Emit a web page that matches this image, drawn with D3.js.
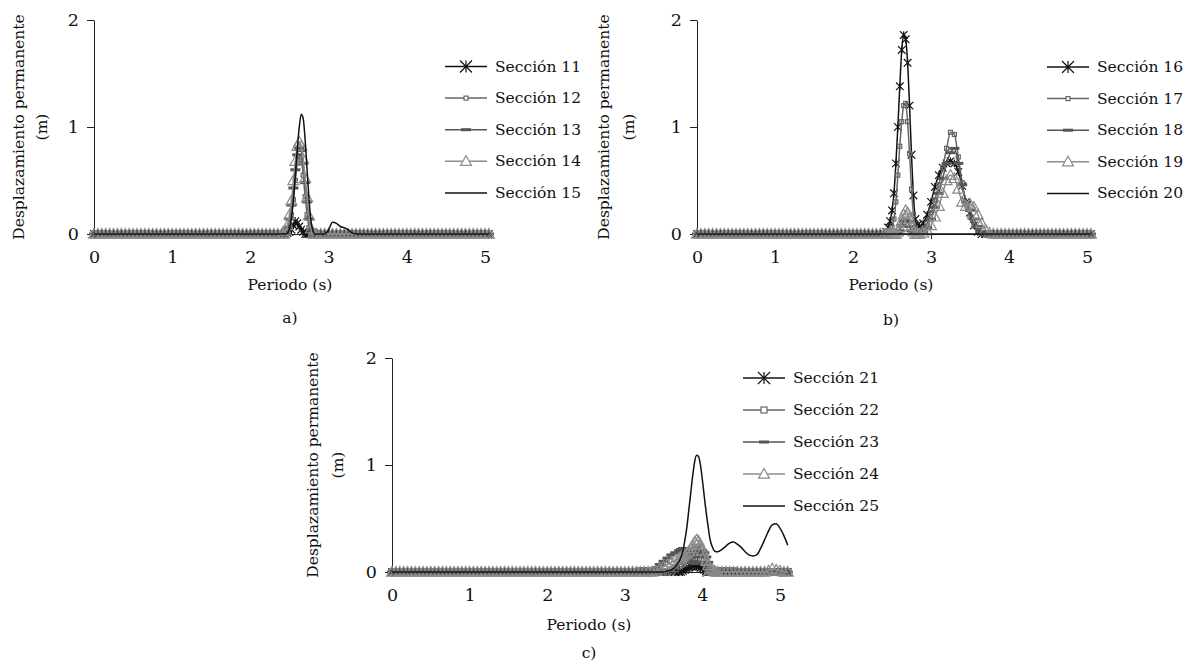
<!DOCTYPE html>
<html>
<head>
<meta charset="utf-8">
<script src="https://cdn.jsdelivr.net/npm/d3@7"></script>
<style>
  body { margin: 0; background: #fff; }
  svg text { font-family: "DejaVu Serif", serif; fill: #111; }
</style>
</head>
<body>
<div class="canvas"></div>
<script>
// ---- data ----
// tick labels
const xTicks = [0, 1, 2, 3, 4, 5];
const yTicks = [0, 1, 2];

// periods (s), panels a and b: 0-2.4 every 0.05, 2.425-2.85 every 0.025, 2.9-5.05 every 0.05
const periodsAB = [
  0,0.05,0.1,0.15,0.2,0.25,0.3,0.35,0.4,0.45, 0.5,0.55,0.6,0.65,0.7,0.75,0.8,0.85,0.9,0.95,
  1,1.05,1.1,1.15,1.2,1.25,1.3,1.35,1.4,1.45, 1.5,1.55,1.6,1.65,1.7,1.75,1.8,1.85,1.9,1.95,
  2,2.05,2.1,2.15,2.2,2.25,2.3,2.35,2.4,
  2.425,2.45,2.475,2.5,2.525,2.55,2.575,2.6,2.625,2.65,2.675,2.7,2.725,2.75,2.775,2.8,2.825,2.85,
  2.9,2.95,3,3.05,3.1,3.15,3.2,3.25,3.3,3.35, 3.4,3.45,3.5,3.55,3.6,3.65,3.7,3.75,3.8,3.85,
  3.9,3.95,4,4.05,4.1,4.15,4.2,4.25,4.3,4.35, 4.4,4.45,4.5,4.55,4.6,4.65,4.7,4.75,4.8,4.85,
  4.9,4.95,5,5.05
];

// periods (s), panel c: 0-3.7 every 0.05, 3.725-4.2 every 0.025, 4.25-5.1 every 0.05
const periodsC = [
  0,0.05,0.1,0.15,0.2,0.25,0.3,0.35,0.4,0.45, 0.5,0.55,0.6,0.65,0.7,0.75,0.8,0.85,0.9,0.95,
  1,1.05,1.1,1.15,1.2,1.25,1.3,1.35,1.4,1.45, 1.5,1.55,1.6,1.65,1.7,1.75,1.8,1.85,1.9,1.95,
  2,2.05,2.1,2.15,2.2,2.25,2.3,2.35,2.4,2.45, 2.5,2.55,2.6,2.65,2.7,2.75,2.8,2.85,2.9,2.95,
  3,3.05,3.1,3.15,
  3.2,3.25,3.3,3.35,3.4,3.45,3.5,3.55,3.6,3.65,3.7,
  3.725,3.75,3.775,3.8,3.825,3.85,3.875,3.9,3.925,3.95,3.975,4,4.025,4.05,4.075,4.1,4.125,4.15,4.175,4.2,
  4.25,4.3,4.35,4.4,4.45,4.5,4.55,4.6,4.65,4.7,4.75,4.8,4.85,4.9,4.95,5,5.05,5.1
];

// permanent displacement (m), panel a
const namesA = ['Sección 11', 'Sección 12', 'Sección 13', 'Sección 14', 'Sección 15'];
const sec11 = [
  0,0,0,0,0,0,0,0,0,0, 0,0,0,0,0,0,0,0,0,0, 0,0,0,0,0,0,0,0,0,0, 0,0,0,0,0,0,0,0,0,0, 0,0,0,0,0,0,0,0,0,
  0,0,0.01,0.02,0.04,0.08,0.12,0.1,0.07,0.04,0.02,0,0,0,0,0,0,0,
  0,0,0,0,0,0,0,0,0,0, 0,0,0,0,0,0,0,0,0,0, 0,0,0,0,0,0,0,0,0,0, 0,0,0,0,0,0,0,0,0,0, 0,0,0,0
];
const sec12 = [
  0,0,0,0,0,0,0,0,0,0, 0,0,0,0,0,0,0,0,0,0, 0,0,0,0,0,0,0,0,0,0, 0,0,0,0,0,0,0,0,0,0, 0,0,0,0,0,0,0,0,0,
  0,0.01,0.03,0.08,0.18,0.32,0.5,0.66,0.72,0.7,0.55,0.35,0.18,0.06,0.01,0,0,0,
  0,0,0,0,0,0,0,0,0,0, 0,0,0,0,0,0,0,0,0,0, 0,0,0,0,0,0,0,0,0,0, 0,0,0,0,0,0,0,0,0,0, 0,0,0,0
];
const sec13 = [
  0,0,0,0,0,0,0,0,0,0, 0,0,0,0,0,0,0,0,0,0, 0,0,0,0,0,0,0,0,0,0, 0,0,0,0,0,0,0,0,0,0, 0,0,0,0,0,0,0,0,0,
  0,0.02,0.06,0.14,0.27,0.43,0.6,0.74,0.8,0.78,0.66,0.48,0.3,0.14,0.04,0,0,0,
  0,0,0,0,0,0,0,0,0,0, 0,0,0,0,0,0,0,0,0,0, 0,0,0,0,0,0,0,0,0,0, 0,0,0,0,0,0,0,0,0,0, 0,0,0,0
];
const sec14 = [
  0,0,0,0,0,0,0,0,0,0, 0,0,0,0,0,0,0,0,0,0, 0,0,0,0,0,0,0,0,0,0, 0,0,0,0,0,0,0,0,0,0, 0,0,0,0,0,0,0,0,0,
  0,0.03,0.08,0.18,0.31,0.5,0.68,0.82,0.86,0.82,0.7,0.52,0.34,0.17,0.05,0,0,0,
  0,0,0,0,0,0,0,0,0,0, 0,0,0,0,0,0,0,0,0,0, 0,0,0,0,0,0,0,0,0,0, 0,0,0,0,0,0,0,0,0,0, 0,0,0,0
];
const sec15 = [
  0,0,0,0,0,0,0,0,0,0, 0,0,0,0,0,0,0,0,0,0, 0,0,0,0,0,0,0,0,0,0, 0,0,0,0,0,0,0,0,0,0, 0,0,0,0,0,0,0,0,0,
  0,0,0.01,0.05,0.15,0.32,0.55,0.8,1,1.12,1.08,0.88,0.6,0.32,0.12,0.03,0,0,
  0,0,0.04,0.11,0.1,0.07,0.06,0.04,0.01,0, 0,0,0,0,0,0,0,0,0,0, 0,0,0,0,0,0,0,0,0,0, 0,0,0,0,0,0,0,0,0,0, 0,0,0,0
];

// permanent displacement (m), panel b
const namesB = ['Sección 16', 'Sección 17', 'Sección 18', 'Sección 19', 'Sección 20'];
const sec16 = [
  0,0,0,0,0,0,0,0,0,0, 0,0,0,0,0,0,0,0,0,0, 0,0,0,0,0,0,0,0,0,0, 0,0,0,0,0,0,0,0,0,0, 0,0,0,0,0,0,0,0,0,
  0.02,0.06,0.12,0.22,0.38,0.66,1,1.38,1.72,1.86,1.82,1.6,1.2,0.74,0.36,0.14,0.08,0.07,
  0.1,0.18,0.3,0.44,0.55,0.62,0.66,0.68,0.66,0.58, 0.45,0.3,0.2,0.08,0.02,0,0,0,0,0, 0,0,0,0,0,0,0,0,0,0, 0,0,0,0,0,0,0,0,0,0, 0,0,0,0
];
const sec17 = [
  0,0,0,0,0,0,0,0,0,0, 0,0,0,0,0,0,0,0,0,0, 0,0,0,0,0,0,0,0,0,0, 0,0,0,0,0,0,0,0,0,0, 0,0,0,0,0,0,0,0,0,
  0,0.01,0.03,0.06,0.14,0.3,0.55,0.82,1.05,1.2,1.22,1.05,0.75,0.42,0.18,0.06,0.03,0.03,
  0.05,0.1,0.2,0.32,0.46,0.62,0.8,0.95,0.93,0.72, 0.48,0.28,0.16,0.08,0.03,0.01,0,0,0,0, 0,0,0,0,0,0,0,0,0,0, 0,0,0,0,0,0,0,0,0,0, 0,0,0,0
];
const sec18 = [
  0,0,0,0,0,0,0,0,0,0, 0,0,0,0,0,0,0,0,0,0, 0,0,0,0,0,0,0,0,0,0, 0,0,0,0,0,0,0,0,0,0, 0,0,0,0,0,0,0,0,0,
  0,0,0,0,0,0,0.01,0.03,0.08,0.12,0.14,0.12,0.07,0.03,0.01,0,0,0,
  0.02,0.06,0.14,0.25,0.38,0.52,0.66,0.76,0.8,0.66, 0.46,0.3,0.22,0.14,0.07,0.02,0,0,0,0, 0,0,0,0,0,0,0,0,0,0, 0,0,0,0,0,0,0,0,0,0, 0,0,0,0
];
const sec19 = [
  0,0,0,0,0,0,0,0,0,0, 0,0,0,0,0,0,0,0,0,0, 0,0,0,0,0,0,0,0,0,0, 0,0,0,0,0,0,0,0,0,0, 0,0,0,0,0,0,0,0,0,
  0,0,0,0,0,0,0.02,0.06,0.12,0.18,0.22,0.2,0.14,0.07,0.02,0,0,0,
  0.01,0.03,0.08,0.16,0.26,0.38,0.5,0.55,0.52,0.42, 0.3,0.26,0.28,0.25,0.18,0.1,0.04,0.01,0,0, 0,0,0,0,0,0,0,0,0,0, 0,0,0,0,0,0,0,0,0,0, 0,0,0,0
];
const sec20 = [
  0,0,0,0,0,0,0,0,0,0, 0,0,0,0,0,0,0,0,0,0, 0,0,0,0,0,0,0,0,0,0, 0,0,0,0,0,0,0,0,0,0, 0,0,0,0,0,0,0,0,0,
  0,0,0,0,0,0,0,0,0,0,0,0,0,0,0,0,0,0,
  0,0,0,0,0,0,0,0,0,0, 0,0,0,0,0,0,0,0,0,0, 0,0,0,0,0,0,0,0,0,0, 0,0,0,0,0,0,0,0,0,0, 0,0,0,0
];

// permanent displacement (m), panel c
const namesC = ['Sección 21', 'Sección 22', 'Sección 23', 'Sección 24', 'Sección 25'];
const sec21 = [
  0,0,0,0,0,0,0,0,0,0, 0,0,0,0,0,0,0,0,0,0, 0,0,0,0,0,0,0,0,0,0, 0,0,0,0,0,0,0,0,0,0, 0,0,0,0,0,0,0,0,0,0, 0,0,0,0,0,0,0,0,0,0, 0,0,0,0,
  0,0,0,0,0,0,0,0,0,0,0,
  0,0.01,0.02,0.03,0.04,0.05,0.05,0.06,0.05,0.05,0.04,0.03,0.02,0.01,0,0,0,0,0,0,
  0,0,0,0,0,0,0,0,0,0,0,0,0,0,0,0,0,0
];
const sec22 = [
  0,0,0,0,0,0,0,0,0,0, 0,0,0,0,0,0,0,0,0,0, 0,0,0,0,0,0,0,0,0,0, 0,0,0,0,0,0,0,0,0,0, 0,0,0,0,0,0,0,0,0,0, 0,0,0,0,0,0,0,0,0,0, 0,0,0,0,
  0,0,0,0,0,0,0,0,0.01,0.03,0.06,
  0.08,0.1,0.12,0.14,0.15,0.16,0.18,0.2,0.22,0.23,0.21,0.17,0.12,0.07,0.03,0.01,0,0,0,0,
  0,0,0,0,0,0,0,0,0,0,0,0,0,0,0,0,0,0
];
const sec23 = [
  0,0,0,0,0,0,0,0,0,0, 0,0,0,0,0,0,0,0,0,0, 0,0,0,0,0,0,0,0,0,0, 0,0,0,0,0,0,0,0,0,0, 0,0,0,0,0,0,0,0,0,0, 0,0,0,0,0,0,0,0,0,0, 0,0,0,0,
  0.03,0.03,0.03,0.02,0.04,0.07,0.1,0.13,0.16,0.18,0.2,
  0.21,0.22,0.22,0.2,0.17,0.13,0.1,0.08,0.1,0.14,0.18,0.2,0.18,0.14,0.09,0.05,0.03,0.03,0.03,0.03,
  0.03,0.03,0.03,0.03,0.02,0,0,0,0,0,0,0,0,0,0,0,0,0
];
const sec24 = [
  0,0,0,0,0,0,0,0,0,0, 0,0,0,0,0,0,0,0,0,0, 0,0,0,0,0,0,0,0,0,0, 0,0,0,0,0,0,0,0,0,0, 0,0,0,0,0,0,0,0,0,0, 0,0,0,0,0,0,0,0,0,0, 0,0,0,0,
  0,0,0,0,0.01,0.03,0.05,0.07,0.09,0.11,0.13,
  0.14,0.15,0.16,0.17,0.19,0.22,0.25,0.28,0.3,0.29,0.25,0.2,0.15,0.1,0.06,0.03,0.02,0.01,0,0,
  0,0,0,0,0,0,0,0,0,0,0,0,0.01,0.03,0.02,0.01,0,0
];
const sec25 = [
  0,0,0,0,0,0,0,0,0,0, 0,0,0,0,0,0,0,0,0,0, 0,0,0,0,0,0,0,0,0,0, 0,0,0,0,0,0,0,0,0,0, 0,0,0,0,0,0,0,0,0,0, 0,0,0,0,0,0,0,0,0,0, 0,0,0,0,
  0,0,0,0,0,0,0,0.01,0.02,0.05,0.1,
  0.14,0.2,0.3,0.42,0.58,0.74,0.9,1.03,1.09,1.08,1,0.86,0.7,0.55,0.42,0.3,0.24,0.2,0.19,0.19,
  0.21,0.24,0.27,0.28,0.26,0.23,0.19,0.16,0.15,0.16,0.22,0.3,0.38,0.44,0.45,0.41,0.34,0.25
];

// ---- styles (same order in every panel) ----
const styles = [
  { marker: 'star',     color: '#111' },
  { marker: 'square',   color: '#666' },
  { marker: 'dash',     color: '#555' },
  { marker: 'triangle', color: '#8c8c8c' },
  { marker: 'none',     color: '#111' }
];

// panel layout
const panels = [
  { tag: 'a)', periods: periodsAB, names: namesA, values: [sec11, sec12, sec13, sec14, sec15],
    x0: 94, unit: 78.2, xMax: 5.06, y0: 234, yTop: 20, labX: 18.5, mX: 42,
    titleX: 290, titleY: 285, tagY: 318, legX: 445, legY: 66.5, legStep: 31.6, sq: 4 },
  { tag: 'b)', periods: periodsAB, names: namesB, values: [sec16, sec17, sec18, sec19, sec20],
    x0: 697, unit: 78, xMax: 5.06, y0: 234, yTop: 20, labX: 604, mX: 629,
    titleX: 891, titleY: 285, tagY: 320, legX: 1047, legY: 67, legStep: 31.6, sq: 4 },
  { tag: 'c)', periods: periodsC, names: namesC, values: [sec21, sec22, sec23, sec24, sec25],
    x0: 392, unit: 77.6, xMax: 5.1, y0: 572, yTop: 358, labX: 313, mX: 338,
    titleX: 589, titleY: 625, tagY: 653, legX: 743, legY: 378, legStep: 32, sq: 6 }
];

// create SVG
const svg = d3.select('.canvas')
  .append('svg')
  .attr('width', 1187)
  .attr('height', 662);

// marker drawing
const drawMarker = function(sel, style, sq, big) {
  const c = style.color;
  if (style.marker === 'star') {
    const r = big ? 6 : 3.8;
    sel.append('path')
      .attr('d', `M${-r},${-r}L${r},${r}M${-r},${r}L${r},${-r}M0,${-r}L0,${r}`)
      .attr('stroke', c).attr('stroke-width', 1.2).attr('fill', 'none');
  } else if (style.marker === 'square') {
    sel.append('rect')
      .attr('x', -sq / 2).attr('y', -sq / 2).attr('width', sq).attr('height', sq)
      .attr('stroke', c).attr('stroke-width', 1.2).attr('fill', big ? '#fff' : 'none');
  } else if (style.marker === 'dash') {
    sel.append('rect')
      .attr('x', -5).attr('y', -1.5).attr('width', 10).attr('height', 3)
      .attr('fill', c);
  } else if (style.marker === 'triangle') {
    const r = 5.5;
    sel.append('path')
      .attr('d', `M0,${-r}L${r},${r * 0.75}L${-r},${r * 0.75}Z`)
      .attr('stroke', c).attr('stroke-width', 1.2).attr('fill', big ? '#fff' : 'none');
  }
};

panels.forEach(p => {
  const x = d3.scaleLinear()
    .domain([0, p.xMax])
    .range([p.x0, p.x0 + p.unit * p.xMax]);
  const y = d3.scaleLinear()
    .domain([0, 2])
    .range([p.y0, p.yTop]);

  const g = svg.append('g');

  // y axis
  const yAxis = g.append('g')
    .attr('transform', `translate(${p.x0},0)`)
    .call(d3.axisLeft(y).tickValues(yTicks).tickSize(7).tickSizeOuter(0).tickPadding(8)
      .tickFormat(d3.format('d')));

  // x axis
  const xAxis = g.append('g')
    .attr('transform', `translate(0,${p.y0})`)
    .call(d3.axisBottom(x).tickValues(xTicks).tickSize(5).tickSizeOuter(0).tickPadding(12)
      .tickFormat(d3.format('d')));

  [yAxis, xAxis].forEach(a => {
    a.attr('font-family', '"DejaVu Serif", serif').attr('font-size', 17.5);
    a.select('.domain').attr('stroke', '#222');
    a.selectAll('.tick line').attr('stroke', '#222');
    a.selectAll('.tick text').attr('fill', '#111');
  });

  // axis titles
  g.append('text')
    .attr('transform', `translate(${p.labX},${(p.y0 + p.yTop) / 2}) rotate(-90)`)
    .attr('text-anchor', 'middle')
    .attr('dominant-baseline', 'central')
    .attr('font-size', 15.5)
    .text('Desplazamiento permanente');
  g.append('text')
    .attr('transform', `translate(${p.mX},${(p.y0 + p.yTop) / 2}) rotate(-90)`)
    .attr('text-anchor', 'middle')
    .attr('dominant-baseline', 'central')
    .attr('font-size', 15.5)
    .text('(m)');
  g.append('text')
    .attr('x', p.titleX).attr('y', p.titleY)
    .attr('text-anchor', 'middle')
    .attr('dominant-baseline', 'central')
    .attr('font-size', 15.5)
    .text('Periodo (s)');
  g.append('text')
    .attr('x', p.titleX).attr('y', p.tagY)
    .attr('text-anchor', 'middle')
    .attr('dominant-baseline', 'central')
    .attr('font-size', 15.5)
    .text(p.tag);

  // series
  const line = d3.line()
    .x(d => x(d[0]))
    .y(d => y(d[1]))
    .curve(d3.curveMonotoneX);

  p.values.forEach((vals, i) => {
    const st = styles[i];
    const pts = p.periods.map((t, j) => [t, vals[j]]);
    g.append('path')
      .datum(pts)
      .attr('fill', 'none')
      .attr('stroke', st.color)
      .attr('stroke-width', 1.5)
      .attr('d', line);
    if (st.marker !== 'none') {
      g.append('g').selectAll('g')
        .data(pts)
        .enter()
        .append('g')
          .attr('transform', d => `translate(${x(d[0])},${y(d[1])})`)
          .each(function() { drawMarker(d3.select(this), st, p.sq, false); });
    }
  });

  // legend
  p.names.forEach((name, i) => {
    const st = styles[i];
    const ly = p.legY + i * p.legStep;
    const lg = g.append('g').attr('transform', `translate(${p.legX},${ly})`);
    lg.append('line')
      .attr('x1', 0).attr('x2', 42)
      .attr('stroke', st.color).attr('stroke-width', 1.5);
    const m = lg.append('g').attr('transform', 'translate(21,0)');
    drawMarker(m, st, p.sq, true);
    lg.append('text')
      .attr('x', 50)
      .attr('dominant-baseline', 'central')
      .attr('font-size', 15.5)
      .text(name);
  });
});
</script>
</body>
</html>
